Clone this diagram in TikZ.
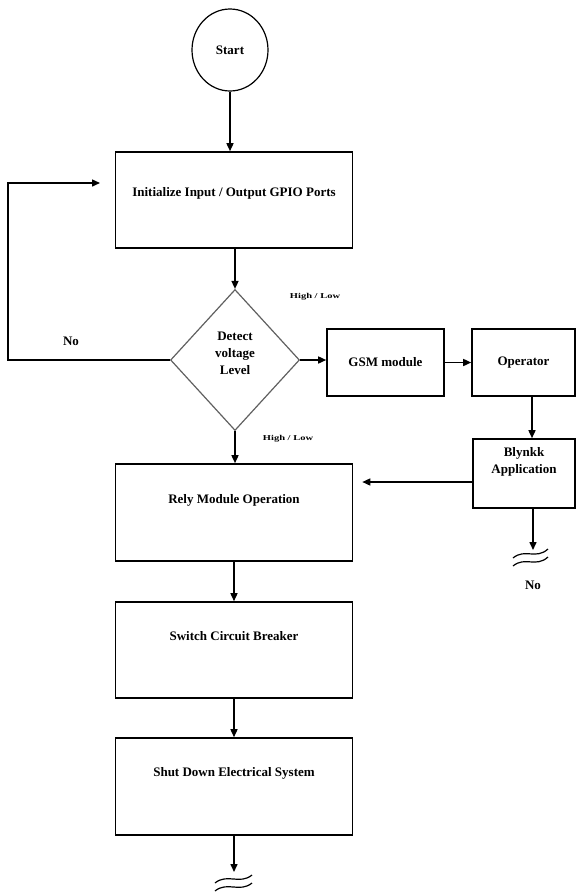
\documentclass[tikz,border=0pt]{standalone}
\usepackage{fontspec}
\setmainfont{Liberation Serif}
\usetikzlibrary{arrows.meta,shapes.geometric}
\begin{document}
\begin{tikzpicture}[x=1pt,y=-1pt,
  box/.style={draw, line width=1.6pt, inner sep=0pt},
  txt/.style={font=\fontsize{13}{17}\selectfont\bfseries, align=center, inner sep=0pt},
  arr/.style={line width=1.5pt, -{Triangle[length=8pt,width=7pt]}},
  hl/.style={font=\fontsize{7.5}{8}\selectfont\bfseries, inner sep=0pt},
  brk/.style={line width=1.2pt}
]
\useasboundingbox (0,0) rectangle (585,892);

% nodes
\node[draw, ellipse, line width=1.2pt, minimum width=76pt, minimum height=82pt, inner sep=0pt, txt] (start) at (230,50) {Start};
\node[box, minimum width=237pt, minimum height=96pt] (init) at (234,200) {};
\node[txt] (initT) at ([yshift=7pt]init.center) {Initialize Input / Output GPIO Ports};
\node[draw=gray!75!black, diamond, line width=1.2pt, minimum width=129pt, minimum height=141pt, inner sep=0pt] (dia) at (235,360) {};
\node[txt] (diaT) at ([yshift=7pt]dia.center) {Detect\\voltage\\Level};
\node[box, txt, minimum width=117pt, minimum height=67pt] (gsm) at (385.5,362.5) {GSM module};
\node[box, txt, minimum width=103pt, minimum height=67pt] (op) at (523.5,362.5) {Operator};
\node[box, minimum width=102pt, minimum height=69pt] (bly) at (524,473.5) {};
\node[txt] (blyT) at ([yshift=12pt]bly.center) {Blynkk\\Application};
\node[box, minimum width=237pt, minimum height=97pt] (rely) at (234,512.5) {};
\node[txt] (relyT) at ([yshift=12.5pt]rely.center) {Rely Module Operation};
\node[box, minimum width=237pt, minimum height=96pt] (sw) at (234,650) {};
\node[txt] (swT) at ([yshift=14pt]sw.center) {Switch Circuit Breaker};
\node[box, minimum width=237pt, minimum height=97pt] (shut) at (234,786.5) {};
\node[txt] (shutT) at ([yshift=13.5pt]shut.center) {Shut Down Electrical System};

% labels
\node[hl] (hl1) at (315,297) {\scalebox{1.4}[1]{High / Low}};
\node[hl] (hl2) at (288,439) {\scalebox{1.4}[1]{High / Low}};
\node[txt] (no1) at (71,341) {No};
\node[txt] (no2) at (533,585) {No};

% coordinates
\coordinate (lx) at (8,183);
\coordinate (lend) at (100,183);
\coordinate (bw) at ([yshift=-8.5pt]bly.west);
\coordinate (bs) at ([xshift=9pt]bly.south);
\coordinate (bend) at (533,550);
\coordinate (os) at ([xshift=8.5pt]op.south);
\coordinate (send) at (234,872);

% connectors
\draw[arr] (start.south) -- (start.south |- init.north);
\draw[arr] (dia.north |- init.south) -- (dia.north);
\draw[arr] (dia.west) -| (lx) -- (lend);
\draw[arr] (dia.east) -- (dia.east -| gsm.west);
\draw[arr] (gsm.east) -- (op.west);
\draw[arr] (os) -- (os |- bly.north);
\draw[arr, shorten >=9pt] (bw) -- (bw -| rely.east);
\draw[arr] (bs) -- (bend);
\draw[arr] (dia.south) -- (dia.south |- rely.north);
\draw[arr] (rely.south) -- (sw.north);
\draw[arr] (sw.south) -- (shut.north);
\draw[arr] (shut.south) -- (send);

% break marks
\draw[brk] (513,558) .. controls (525,548) and (536,560) .. (548,549);
\draw[brk] (513,566) .. controls (525,556) and (536,568) .. (548,557);
\draw[brk] (215,883) .. controls (227,873) and (240,885) .. (252,875);
\draw[brk] (215,891) .. controls (227,881) and (240,893) .. (252,883);
\end{tikzpicture}
\end{document}
